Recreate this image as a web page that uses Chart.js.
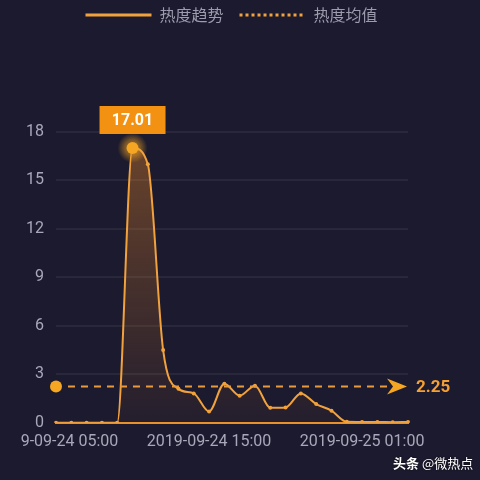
<!DOCTYPE html>
<html>
<head>
<meta charset="utf-8">
<script src="https://cdn.jsdelivr.net/npm/chart.js@4/dist/chart.umd.min.js"></script>
<style>
    html, body { margin: 0; padding: 0; background: #1c1a2e; overflow: hidden; }
    #wrap { position: relative; width: 480px; height: 480px; }
    #lineChart { position: absolute; left: 21px; top: 0; }
    #mark {
        position: absolute; left: 393px; top: 453px; white-space: nowrap;
        color: #fff; font: 13px "Noto Sans CJK SC", sans-serif;
        text-shadow: 0 0 2px rgba(0,0,0,0.8);
    }
    #mark b { font-weight: bold; }
</style>
</head>
<body>
<div id="wrap">
    <canvas id="lineChart" width="459" height="480"></canvas>
    <div id="mark"><b>头条</b> @微热点</div>
</div>
<script>
// hourly points, 2019-09-24 05:00 .. 2019-09-25 04:00
const timeLabels = [
    '2019-09-24 05:00', '2019-09-24 06:00', '2019-09-24 07:00', '2019-09-24 08:00',
    '2019-09-24 09:00', '2019-09-24 10:00', '2019-09-24 11:00', '2019-09-24 12:00',
    '2019-09-24 13:00', '2019-09-24 14:00', '2019-09-24 15:00', '2019-09-24 16:00',
    '2019-09-24 17:00', '2019-09-24 18:00', '2019-09-24 19:00', '2019-09-24 20:00',
    '2019-09-24 21:00', '2019-09-24 22:00', '2019-09-24 23:00', '2019-09-25 00:00',
    '2019-09-25 01:00', '2019-09-25 02:00', '2019-09-25 03:00', '2019-09-25 04:00'
];
const heat = [
    0, 0, 0, 0, 0, 17.01, 16.0, 4.5, 2.1, 1.82, 0.7, 2.42,
    1.68, 2.3, 0.93, 0.95, 1.82, 1.16, 0.75, 0.06, 0.05, 0.05, 0.04, 0.05
];
const meanValue = 2.25;
const yTicks = [0, 3, 6, 9, 12, 15, 18];

const orange = '#f2a23c';
const deep = '#f39212';

// push the plot down below the legend, and nudge the legend right
const legendGap = {
    id: 'legendGap',
    beforeInit(chart) {
        const fit = chart.legend.fit;
        chart.legend.fit = function () {
            fit.bind(chart.legend)();
            this.height = 141;
        };
    },
    afterUpdate(chart) {
        chart.legend.left += 17;
        chart.legend.right += 17;
    }
};

const peakPlugin = {
    id: 'peak',
    afterDatasetsDraw(chart) {
        const ctx = chart.ctx;
        const i = heat.indexOf(Math.max(...heat));
        const pt = chart.getDatasetMeta(0).data[i];
        ctx.save();
        const g = ctx.createRadialGradient(pt.x, pt.y, 0, pt.x, pt.y, 15);
        g.addColorStop(0, 'rgba(245,166,35,0.7)');
        g.addColorStop(0.5, 'rgba(245,166,35,0.45)');
        g.addColorStop(1, 'rgba(245,166,35,0)');
        ctx.fillStyle = g;
        ctx.beginPath();
        ctx.arc(pt.x, pt.y, 15, 0, Math.PI * 2);
        ctx.fill();
        ctx.fillStyle = '#f5a623';
        ctx.beginPath();
        ctx.arc(pt.x, pt.y, 6, 0, Math.PI * 2);
        ctx.fill();
        // value box
        const w = 66, h = 28;
        const top = pt.y - 14 - h;
        ctx.fillStyle = deep;
        ctx.fillRect(pt.x - w / 2, top, w, h);
        ctx.fillStyle = '#fff';
        ctx.font = 'bold 16px Roboto, "Noto Sans CJK SC"';
        ctx.textAlign = 'center';
        ctx.textBaseline = 'middle';
        ctx.fillText(heat[i].toFixed(2), pt.x, top + h / 2 + 1);
        ctx.restore();
    }
};

const meanPlugin = {
    id: 'meanLine',
    afterDatasetsDraw(chart) {
        const ctx = chart.ctx;
        const area = chart.chartArea;
        const y = chart.scales.y.getPixelForValue(meanValue);
        ctx.save();
        ctx.fillStyle = '#f5a623';
        ctx.beginPath();
        ctx.arc(area.left, y, 6, 0, Math.PI * 2);
        ctx.fill();
        ctx.strokeStyle = '#e99a3a';
        ctx.lineWidth = 2;
        ctx.setLineDash([7, 6]);
        ctx.beginPath();
        ctx.moveTo(area.left + 12, y);
        ctx.lineTo(area.right - 18, y);
        ctx.stroke();
        ctx.setLineDash([]);
        // arrow head
        const tip = area.right - 1;
        ctx.fillStyle = '#f5a623';
        ctx.beginPath();
        ctx.moveTo(tip, y);
        ctx.lineTo(tip - 20, y - 8);
        ctx.lineTo(tip - 14, y);
        ctx.lineTo(tip - 20, y + 8);
        ctx.closePath();
        ctx.fill();
        ctx.fillStyle = '#f5a030';
        ctx.font = 'bold 17px Roboto, "Noto Sans CJK SC"';
        ctx.textAlign = 'left';
        ctx.textBaseline = 'middle';
        ctx.fillText(meanValue.toFixed(2), area.right + 8, y + 1);
        ctx.restore();
    }
};

function createLineChart() {
    const ctx = document.getElementById('lineChart').getContext('2d');
    new Chart(ctx, {
        type: 'line',
        data: {
            labels: timeLabels,
            datasets: [{
                label: '热度趋势',
                data: heat,
                borderColor: orange,
                borderWidth: 2,
                pointRadius: 2,
                pointBackgroundColor: orange,
                pointBorderWidth: 0,
                cubicInterpolationMode: 'monotone',
                fill: 'origin',
                backgroundColor: (c) => {
                    const area = c.chart.chartArea;
                    if (!area) return 'rgba(240,150,50,0.2)';
                    const g = c.chart.ctx.createLinearGradient(0, area.top, 0, area.bottom);
                    g.addColorStop(0, 'rgba(240,140,40,0.38)');
                    g.addColorStop(1, 'rgba(240,140,40,0.04)');
                    return g;
                }
            }]
        },
        options: {
            responsive: false,
            animation: false,
            layout: { padding: { top: -9, right: 72, bottom: 26, left: 0 } },
            plugins: {
                tooltip: { enabled: false },
                legend: {
                    labels: {
                        usePointStyle: true,
                        pointStyleWidth: 66,
                        padding: 16,
                        color: '#9c9cae',
                        font: { size: 16, family: '"Noto Sans CJK SC", sans-serif' },
                        generateLabels: () => [
                            { text: '热度趋势', pointStyle: 'line', strokeStyle: orange, lineWidth: 3, fontColor: '#9c9cae' },
                            { text: '热度均值', pointStyle: 'line', strokeStyle: orange, lineWidth: 3, lineDash: [3, 3], fontColor: '#9c9cae' }
                        ]
                    }
                }
            },
            scales: {
                x: {
                    grid: { display: false },
                    border: { color: '#e8902a', width: 2 },
                    afterFit: (scale) => { scale.paddingLeft = 0; scale.paddingRight = 0; },
                    ticks: {
                        autoSkip: false,
                        maxRotation: 0,
                        padding: 2,
                        color: '#a8a8ba',
                        font: { size: 16, family: 'Roboto, sans-serif' },
                        callback: (v, i) => (i % 10 === 0 ? timeLabels[i] : '')
                    }
                },
                y: {
                    min: 0,
                    max: 18,
                    afterFit: (scale) => { scale.width = 35; },
                    afterBuildTicks: (scale) => { scale.ticks = yTicks.map(v => ({ value: v })); },
                    grid: { color: 'rgba(255,255,255,0.06)', drawTicks: false, lineWidth: 2 },
                    border: { display: false },
                    ticks: {
                        padding: 12,
                        color: '#a8a8ba',
                        font: { size: 16, family: 'Roboto, sans-serif' }
                    }
                }
            }
        },
        plugins: [legendGap, meanPlugin, peakPlugin]
    });
}

document.addEventListener('DOMContentLoaded', createLineChart);
</script>
</body>
</html>
